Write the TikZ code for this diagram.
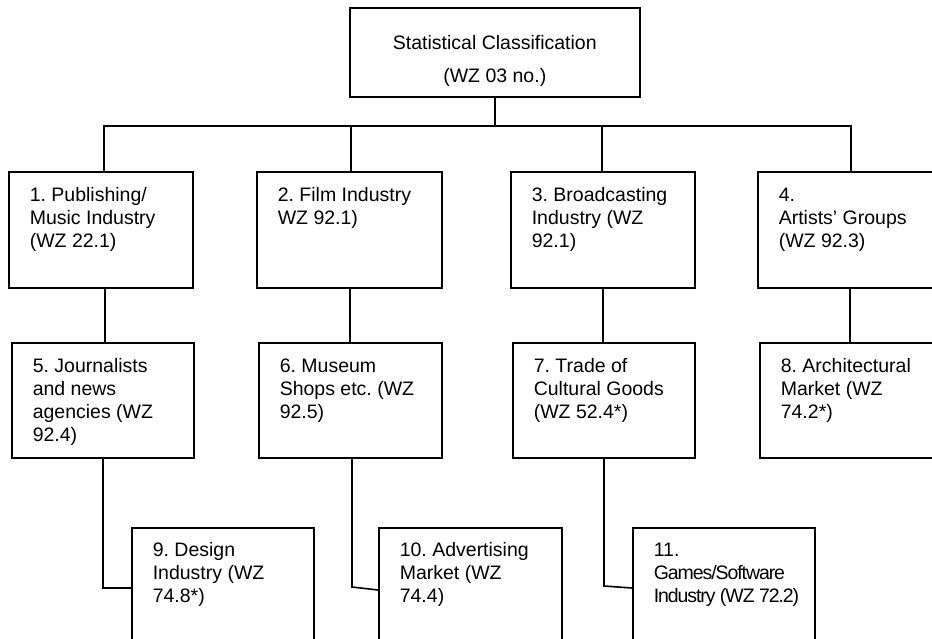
\documentclass[tikz,border=0pt]{standalone}
\usepackage{fontspec}
\setmainfont{Liberation Sans}
\frenchspacing
\begin{document}
% Left-aligned cell text: width, height, top gap, text
\newcommand\celltext[4]{%
  \parbox[c][#2pt][t]{#1pt}{\vspace*{#3pt}\raggedright\leftskip=21pt\relax
    \fontsize{19.5pt}{23pt}\selectfont\strut #4}}
% Centred cell text for the heading box
\newcommand\headtext[4]{%
  \parbox[c][#2pt][t]{#1pt}{\vspace*{#3pt}\centering
    \fontsize{19.5pt}{33pt}\selectfont\strut #4}}
\begin{tikzpicture}[x=1pt,y=-1pt,
  cell/.style={draw=black, line width=1.6pt, inner sep=0pt, anchor=north west},
  link/.style={draw=black, line width=1.6pt, line join=miter}]
\useasboundingbox (0,0) rectangle (932,638);
\clip (0,0) rectangle (932,638);

% heading
\node[cell] (top) at (349,7) {\headtext{290}{89}{19}{Statistical Classification\\(WZ 03 no.)}};

% first row
\node[cell] (b1) at (8,171)   {\celltext{184}{116}{14}{1. Publishing/\\Music Industry\\(WZ 22.1)}};
\node[cell] (b2) at (256,171) {\celltext{185}{116}{14}{2. Film Industry\\WZ 92.1)}};
\node[cell] (b3) at (510,171) {\celltext{184}{116}{14}{3. Broadcasting\\Industry (WZ\\92.1)}};
\node[cell] (b4) at (757,171) {\celltext{184}{116}{14}{4.\\Artists’ Groups\\(WZ 92.3)}};

% second row
\node[cell] (b5) at (11,342)  {\celltext{182}{115}{14}{5. Journalists\\and news\\agencies (WZ\\92.4)}};
\node[cell] (b6) at (258,342) {\celltext{183}{115}{14}{6. Museum\\Shops etc. (WZ\\92.5)}};
\node[cell] (b7) at (512,342) {\celltext{182}{115}{14}{7. Trade of\\Cultural Goods\\(WZ 52.4*)}};
\node[cell] (b8) at (759,342) {\celltext{182}{115}{14}{8. Architectural\\Market (WZ\\74.2*)}};

% third row
\node[cell] (b9)  at (131,527) {\celltext{182}{120}{13}{9. Design\\Industry (WZ\\74.8*)}};
\node[cell] (b10) at (378,527) {\celltext{183}{120}{13}{10. Advertising\\Market (WZ\\74.4)}};
\node[cell] (b11) at (632,527) {\celltext{182}{120}{13}{11.\\{\addfontfeature{LetterSpace=-5.5}Games/Software}\\{\addfontfeature{LetterSpace=-5.5}Industry (WZ 72.2)}}};

% bus below the heading
\coordinate (bus) at (494,126);
\coordinate (d1) at (104,126);
\coordinate (d2) at (351,126);
\coordinate (d3) at (602,126);
\coordinate (d4) at (851,126);
\draw[link] (top.south) -- (top.south |- bus);
\draw[link] (d1 |- b1.north) -- (d1) -- (d4) -- (d4 |- b4.north);
\draw[link] (d2) -- (d2 |- b2.north);
\draw[link] (d3) -- (d3 |- b3.north);

% first row to second row
\coordinate (v1) at (105,0);
\coordinate (v2) at (350,0);
\coordinate (v3) at (603,0);
\coordinate (v4) at (850,0);
\draw[link] (v1 |- b1.south) -- (v1 |- b5.north);
\draw[link] (v2 |- b2.south) -- (v2 |- b6.north);
\draw[link] (v3 |- b3.south) -- (v3 |- b7.north);
\draw[link] (v4 |- b4.south) -- (v4 |- b8.north);

% second row to third row (elbows)
\coordinate (k9) at (103,588);
\coordinate (k10) at (352,587);
\coordinate (t10) at (0,590);
\coordinate (k11) at (604,586);
\coordinate (t11) at (0,588);
\draw[link] (k9 |- b5.south) -- (k9) -- (k9 -| b9.west);
\draw[link] (k10 |- b6.south) -- (k10) -- (b10.west |- t10);
\draw[link] (k11 |- b7.south) -- (k11) -- (b11.west |- t11);
\end{tikzpicture}
\end{document}
